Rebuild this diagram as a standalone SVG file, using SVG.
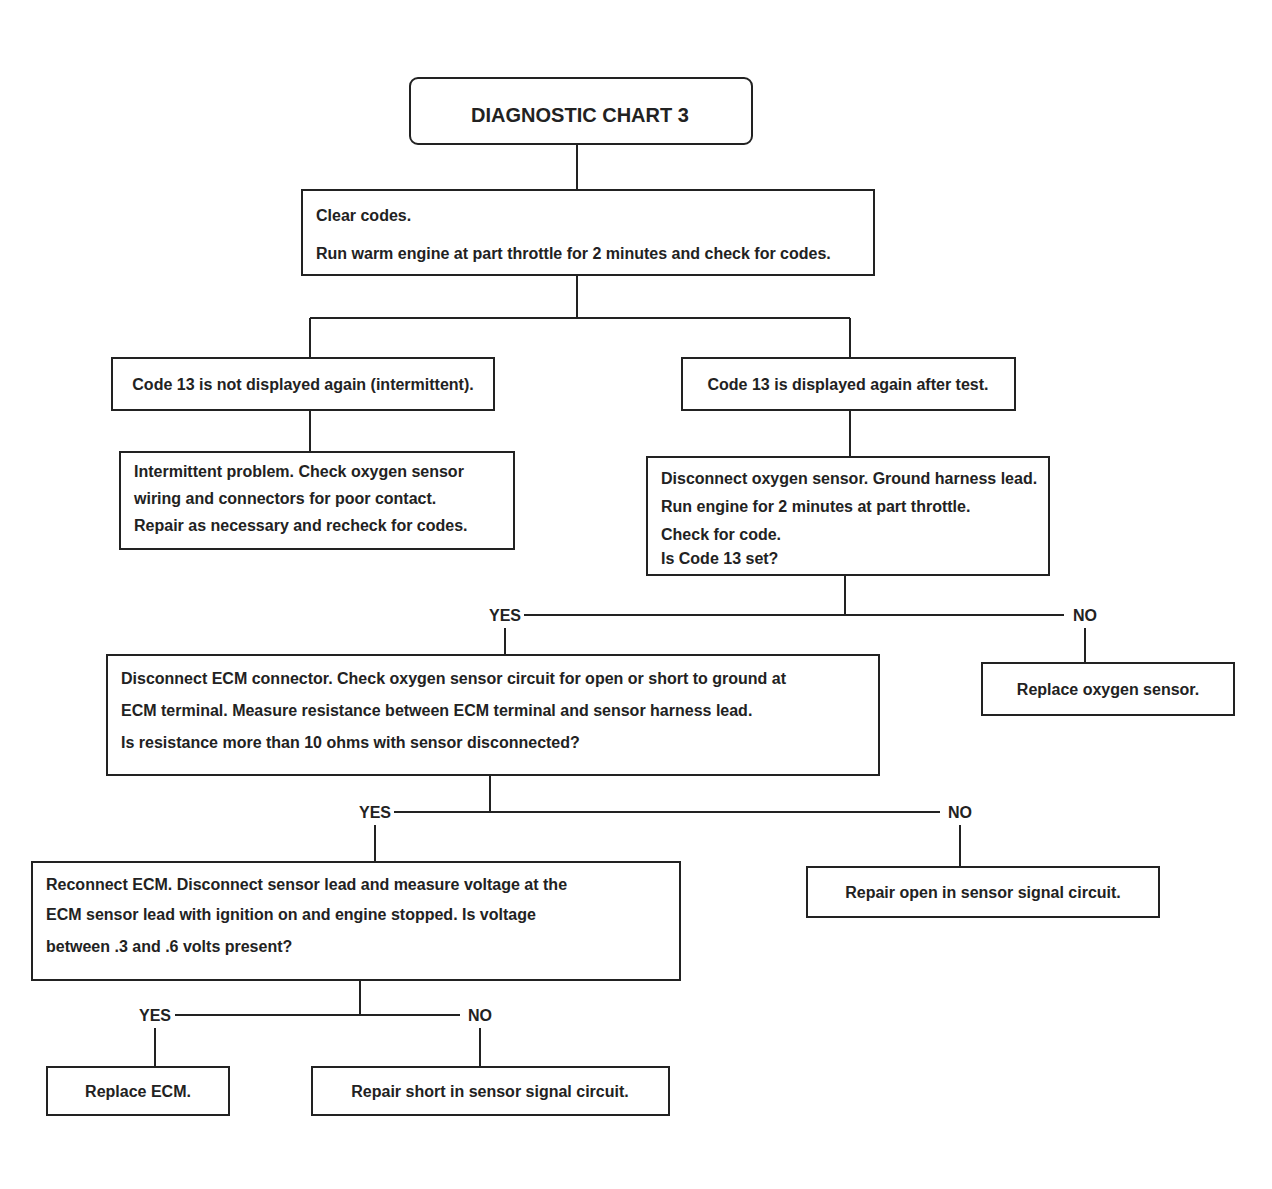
<svg xmlns="http://www.w3.org/2000/svg" width="1272" height="1189" viewBox="0 0 1272 1189">
<style>
.box{fill:#ffffff;stroke:#222;stroke-width:2}
.t{font-family:"Liberation Sans",Arial,sans-serif;font-size:16px;font-weight:bold;fill:#222}
.c{text-anchor:middle}
.ln{stroke:#222;stroke-width:2;fill:none}
.lb{font-family:"Liberation Sans",Arial,sans-serif;font-size:16px;font-weight:bold;fill:#222;text-anchor:middle}
</style>
<rect width="1272" height="1189" fill="#ffffff"/>
<g id="connectors">
<line class="ln" x1="577" y1="145" x2="577" y2="190"/>
<line class="ln" x1="577" y1="275" x2="577" y2="318"/>
<line class="ln" x1="310" y1="318" x2="850" y2="318"/>
<line class="ln" x1="310" y1="318" x2="310" y2="358"/>
<line class="ln" x1="850" y1="318" x2="850" y2="358"/>
<line class="ln" x1="310" y1="410" x2="310" y2="452"/>
<line class="ln" x1="850" y1="410" x2="850" y2="457"/>
<line class="ln" x1="845" y1="575" x2="845" y2="615"/>
<line class="ln" x1="524" y1="615" x2="1064" y2="615"/>
<line class="ln" x1="505" y1="628" x2="505" y2="655"/>
<line class="ln" x1="1085" y1="628" x2="1085" y2="663"/>
<line class="ln" x1="490" y1="775" x2="490" y2="812"/>
<line class="ln" x1="394" y1="812" x2="940" y2="812"/>
<line class="ln" x1="375" y1="825" x2="375" y2="862"/>
<line class="ln" x1="960" y1="825" x2="960" y2="867"/>
<line class="ln" x1="360" y1="980" x2="360" y2="1015"/>
<line class="ln" x1="175" y1="1015" x2="460" y2="1015"/>
<line class="ln" x1="155" y1="1028" x2="155" y2="1067"/>
<line class="ln" x1="480" y1="1028" x2="480" y2="1067"/>
<text class="lb" x="505" y="621">YES</text>
<text class="lb" x="1085" y="621">NO</text>
<text class="lb" x="375" y="818">YES</text>
<text class="lb" x="960" y="818">NO</text>
<text class="lb" x="155" y="1021">YES</text>
<text class="lb" x="480" y="1021">NO</text>
</g>
<g id="n1">
<rect class="box" x="410" y="78" width="342" height="66" rx="8"/>
<text class="t c" x="580" y="122" style="font-size:20px">DIAGNOSTIC CHART 3</text>
</g>
<g id="n2">
<rect class="box" x="302" y="190" width="572" height="85"/>
<text class="t" x="316" y="221">Clear codes.</text>
<text class="t" x="316" y="259">Run warm engine at part throttle for 2 minutes and check for codes.</text>
</g>
<g id="n3">
<rect class="box" x="112" y="358" width="382" height="52"/>
<text class="t c" x="303" y="390">Code 13 is not displayed again (intermittent).</text>
</g>
<g id="n4">
<rect class="box" x="682" y="358" width="333" height="52"/>
<text class="t c" x="848" y="390">Code 13 is displayed again after test.</text>
</g>
<g id="n5">
<rect class="box" x="120" y="452" width="394" height="97"/>
<text class="t" x="134" y="477">Intermittent problem. Check oxygen sensor</text>
<text class="t" x="134" y="504">wiring and connectors for poor contact.</text>
<text class="t" x="134" y="531">Repair as necessary and recheck for codes.</text>
</g>
<g id="n6">
<rect class="box" x="647" y="457" width="402" height="118"/>
<text class="t" x="661" y="484">Disconnect oxygen sensor. Ground harness lead.</text>
<text class="t" x="661" y="512">Run engine for 2 minutes at part throttle.</text>
<text class="t" x="661" y="540">Check for code.</text>
<text class="t" x="661" y="564">Is Code 13 set?</text>
</g>
<g id="n7">
<rect class="box" x="107" y="655" width="772" height="120"/>
<text class="t" x="121" y="684">Disconnect ECM connector. Check oxygen sensor circuit for open or short to ground at</text>
<text class="t" x="121" y="716">ECM terminal. Measure resistance between ECM terminal and sensor harness lead.</text>
<text class="t" x="121" y="748">Is resistance more than 10 ohms with sensor disconnected?</text>
</g>
<g id="n8">
<rect class="box" x="982" y="663" width="252" height="52"/>
<text class="t c" x="1108" y="695">Replace oxygen sensor.</text>
</g>
<g id="n9">
<rect class="box" x="32" y="862" width="648" height="118"/>
<text class="t" x="46" y="890">Reconnect ECM. Disconnect sensor lead and measure voltage at the</text>
<text class="t" x="46" y="920">ECM sensor lead with ignition on and engine stopped. Is voltage</text>
<text class="t" x="46" y="952">between .3 and .6 volts present?</text>
</g>
<g id="n10">
<rect class="box" x="807" y="867" width="352" height="50"/>
<text class="t c" x="983" y="898">Repair open in sensor signal circuit.</text>
</g>
<g id="n11">
<rect class="box" x="47" y="1067" width="182" height="48"/>
<text class="t c" x="138" y="1097">Replace ECM.</text>
</g>
<g id="n12">
<rect class="box" x="312" y="1067" width="357" height="48"/>
<text class="t c" x="490" y="1097">Repair short in sensor signal circuit.</text>
</g>
</svg>
